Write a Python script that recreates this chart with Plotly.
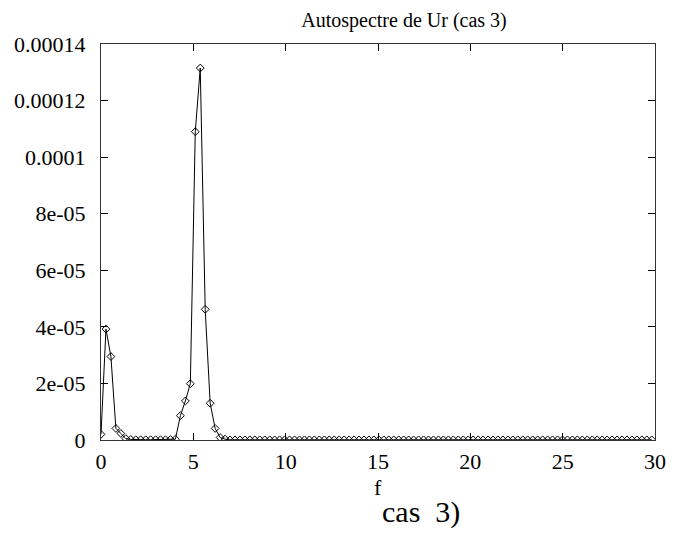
import plotly.graph_objects as go

# frequency grid (uniform step)
df = 0.2687
n_points = 112
freq = [round(i * df, 4) for i in range(n_points)]

# autospectrum values
low_part = [2.0e-6, 3.92e-5, 2.95e-5, 4.1e-6, 2.3e-6, 5e-7,
            2e-7, 1e-7, 1e-7, 1e-7, 1e-7, 1e-7, 1e-7, 1e-7, 2e-7,
            3e-7, 8.6e-6, 1.38e-5, 1.99e-5, 1.09e-4, 1.315e-4, 4.62e-5,
            1.30e-5, 4.1e-6, 9e-7, 3e-7]
tail = [5e-8] * (n_points - len(low_part))
spectrum = low_part + tail

y_tickvals = [0, 2e-5, 4e-5, 6e-5, 8e-5, 1e-4, 1.2e-4, 1.4e-4]
y_ticktext = ["0", "2e-05", "4e-05", "6e-05", "8e-05", "0.0001", "0.00012", "0.00014"]
x_tickvals = [0, 5, 10, 15, 20, 25, 30]

serif = "Liberation Serif, Times New Roman, serif"

# page body has an 8px margin; size the figure so the plot box lands at
# x 101..655, y 44..440 in the window
W, H = 669, 540
L, R, T, B = 93, 22, 36, 108
PH = H - T - B

fig = go.Figure()
fig.add_trace(go.Scatter(
    x=freq, y=spectrum, mode="lines+markers",
    line=dict(color="black", width=1),
    marker=dict(symbol="diamond-open", size=6, color="black", line=dict(width=1, color="black")),
    showlegend=False,
))

fig.update_layout(
    width=W, height=H,
    paper_bgcolor="white", plot_bgcolor="white",
    margin=dict(l=L, r=R, t=T, b=B, autoexpand=False),
    title=dict(text="Autospectre de Ur (cas 3)", x=(404 - 8) / W, xanchor="center",
               y=1 - 12 / H, yanchor="middle",
               font=dict(family=serif, size=20, color="black")),
    font=dict(family=serif, color="black"),
)
fig.update_xaxes(
    range=[0, 30], tickvals=x_tickvals, ticks="inside", ticklen=7, tickcolor="black",
    showline=True, linecolor="#333", linewidth=1, mirror="ticks", showgrid=False,
    zeroline=False, tickfont=dict(family=serif, size=22, color="black"),
    ticklabelstandoff=2,
)
fig.update_yaxes(
    range=[0, 1.4e-4], tickvals=y_tickvals, ticktext=y_ticktext, ticks="inside",
    ticklen=7, tickcolor="black", showline=True, linecolor="#333", linewidth=1,
    mirror="ticks", showgrid=False, zeroline=False,
    tickfont=dict(family=serif, size=22, color="black"), ticklabelstandoff=10,
)
fig.add_annotation(text="f", xref="paper", yref="paper", x=(378 - 101) / 554,
                   y=-47 / PH, showarrow=False, yanchor="middle",
                   font=dict(family=serif, size=22, color="black"))
fig.add_annotation(text="cas&nbsp;&nbsp;3)", xref="paper", yref="paper", x=(421 - 101) / 554,
                   y=-72 / PH, showarrow=False, yanchor="middle",
                   font=dict(family=serif, size=30, color="black"))

fig.write_html("out.html")
